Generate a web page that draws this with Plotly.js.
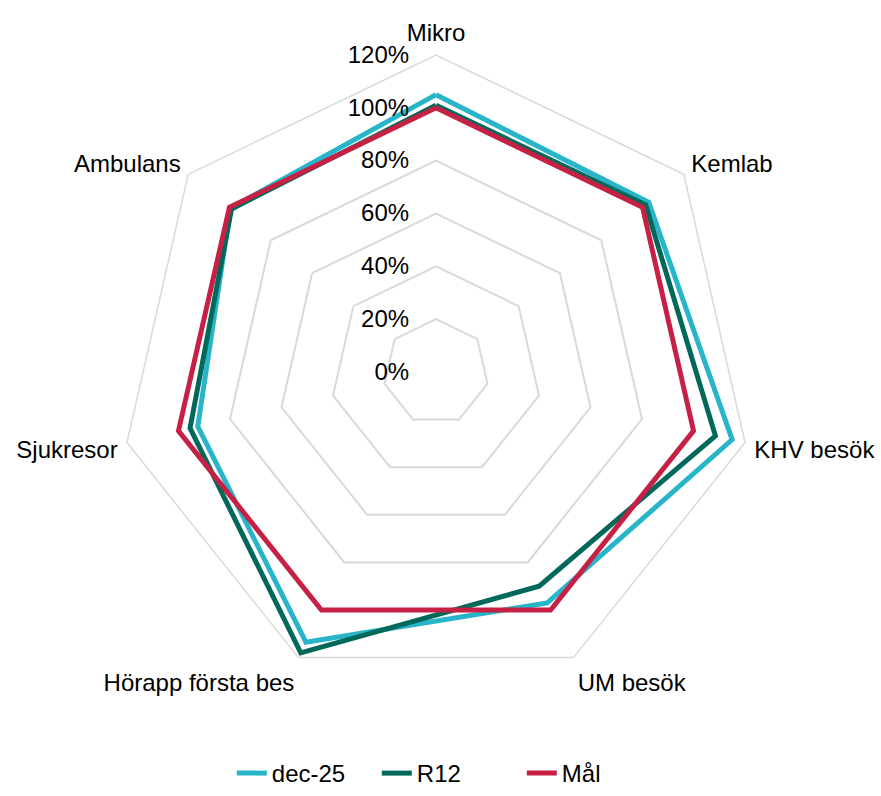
<!DOCTYPE html>
<html>
<head>
<meta charset="utf-8">
<script src="https://cdn.plot.ly/plotly-3.0.1.min.js"></script>
<style>
  html, body { margin: 0; padding: 0; background: #fff; }
  #chart { width: 881px; height: 796px; }
</style>
</head>
<body>
<div id="chart"></div>
<script>
var categories = ["Mikro", "Kemlab", "KHV besök", "UM besök", "Hörapp första bes", "Sjukresor", "Ambulans"];
var dec25 = [1.05, 1.03, 1.15, 0.97, 1.135, 0.925, 0.995];
var r12 = [1.01, 1.015, 1.085, 0.90, 1.18, 0.955, 0.99];
var mal = [1.00, 1.00, 1.00, 1.00, 1.00, 1.00, 1.00];
var tickVals = [0, 0.2, 0.4, 0.6, 0.8, 1.0, 1.2];
var tickText = ["0%", "20%", "40%", "60%", "80%", "100%", "120%"];

// close the polygon by repeating the first point
function closed(arr) { return arr.concat([arr[0]]); }

var data = [
  { name: "dec-25", r: closed(dec25), theta: closed(categories), color: "#29B5C9" },
  { name: "R12", r: closed(r12), theta: closed(categories), color: "#00695B" },
  { name: "Mål", r: closed(mal), theta: closed(categories), color: "#C62044" }
].map(function (s) {
  return {
    type: "scatterpolar",
    mode: "lines",
    name: s.name,
    r: s.r,
    theta: s.theta,
    line: { color: s.color, width: 5 },
    hoverinfo: "skip"
  };
});

var layout = {
  width: 881,
  height: 796,
  margin: { l: 0, r: 0, t: 0, b: 0 },
  paper_bgcolor: "#fff",
  font: { family: "Liberation Sans, Arial, sans-serif", size: 24, color: "#000" },
  showlegend: true,
  legend: {
    orientation: "h",
    x: 0.51, xanchor: "center",
    y: 0, yanchor: "bottom",
    font: { size: 24, color: "#000" },
    entrywidth: 100,
    entrywidthmode: "pixels"
  },
  polar: {
    domain: { x: [0.1351, 0.8547], y: [0.1344, 0.9309] },
    gridshape: "linear",
    bgcolor: "#fff",
    radialaxis: {
      range: [0, 1.2],
      tickvals: tickVals,
      ticktext: tickText,
      angle: 90,
      side: "counterclockwise",
      tickangle: 90,
      showline: false,
      ticks: "outside",
      ticklen: 18,
      tickcolor: "rgba(0,0,0,0)",
      gridcolor: "#d9d9d9",
      gridwidth: 1.5,
      tickfont: { size: 24, color: "#000" }
    },
    angularaxis: {
      rotation: 90,
      direction: "clockwise",
      showgrid: false,
      showline: true,
      linecolor: "#d9d9d9",
      linewidth: 1.5,
      ticks: "outside",
      ticklen: 4,
      tickcolor: "rgba(0,0,0,0)",
      tickfont: { size: 24, color: "#000" }
    }
  }
};

Plotly.newPlot("chart", data, layout, { displayModeBar: false });
</script>
</body>
</html>
